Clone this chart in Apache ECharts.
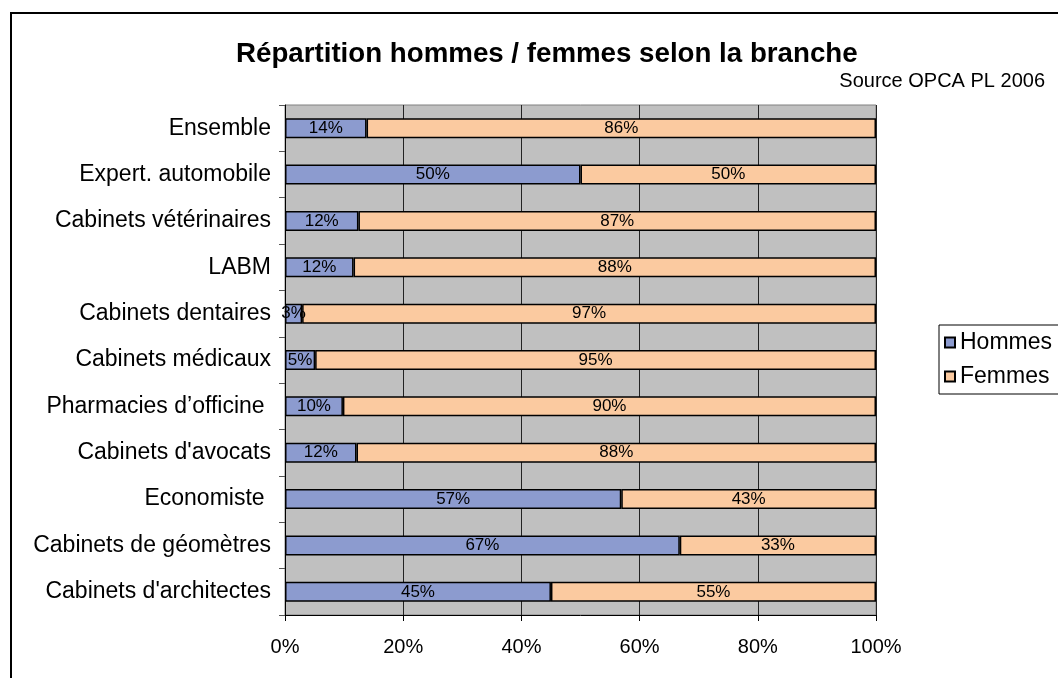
<!DOCTYPE html>
<html>
<head>
<meta charset="utf-8">
<script src="https://cdn.jsdelivr.net/npm/echarts@6/dist/echarts.min.js"></script>
<style>
  html, body { margin: 0; padding: 0; background: #fff; }
  #chart { width: 1058px; height: 678px; }
</style>
</head>
<body>
<div id="chart"></div>
<script>
// branches, top to bottom
const categories = ['Ensemble', 'Expert. automobile', 'Cabinets vétérinaires', 'LABM', 'Cabinets dentaires',
  'Cabinets médicaux', 'Pharmacies d’officine ', "Cabinets d'avocats", 'Economiste ',
  'Cabinets de géomètres', "Cabinets d'architectes"];
const hommes = [13.8, 50, 12.4, 11.6, 2.9, 5.1, 9.8, 12.1, 56.9, 66.8, 45];
const femmes = [86.2, 50, 87.4, 88.4, 97.1, 94.9, 90.2, 87.9, 43.1, 33.2, 55];
const xTicks = [0, 20, 40, 60, 80, 100];

const font = 'Arial, "Liberation Sans", sans-serif';

// 100% stacked: share of each row
function share(arr) {
  return arr.map((v, i) => ({ value: v / (hommes[i] + femmes[i]) * 100, raw: v }));
}

const labelOpt = {
  show: true,
  position: 'inside',
  color: '#000',
  fontFamily: font,
  fontSize: 17,
  formatter: p => Math.round(p.data.raw) + '%'
};

var myChart = echarts.init(document.getElementById('chart'));
myChart.setOption({
  animation: false,
  title: [
    {
      text: 'Répartition hommes / femmes selon la branche',
      left: 231,
      top: 35,
      textStyle: { fontFamily: font, fontSize: 27.7, fontWeight: 'bold', color: '#000' }
    },
    {
      text: 'Source OPCA PL 2006',
      right: 8,
      top: 66,
      textStyle: { fontFamily: font, fontSize: 20, fontWeight: 'normal', color: '#000' }
    }
  ],
  graphic: [
    {
      type: 'rect',
      z: -10,
      silent: true,
      shape: { x: 11, y: 13, width: 1200, height: 800 },
      style: { fill: 'none', stroke: '#000', lineWidth: 2 }
    }
  ],
  legend: {
    orient: 'vertical',
    left: 939,
    top: 325,
    itemWidth: 10,
    itemHeight: 10,
    itemGap: 11,
    padding: [6, 60, 6, 5],
    borderColor: '#000',
    borderWidth: 1,
    icon: 'rect',
    textStyle: { fontFamily: font, fontSize: 23, lineHeight: 23, color: '#000' },
    data: ['Hommes', 'Femmes']
  },
  grid: {
    left: 285,
    right: 182,
    top: 105,
    bottom: 63,
    show: true,
    backgroundColor: '#C0C0C0',
    borderColor: '#808080',
    borderWidth: 1
  },
  xAxis: {
    type: 'value',
    min: xTicks[0],
    max: xTicks[xTicks.length - 1],
    interval: 20,
    axisLine: { show: true, lineStyle: { color: '#000', width: 1 } },
    axisTick: { show: true, length: 6, lineStyle: { color: '#000' } },
    splitLine: { show: true, lineStyle: { color: '#222', width: 1 } },
    axisLabel: {
      margin: 22,
      fontFamily: font,
      fontSize: 20,
      color: '#000',
      formatter: '{value}%'
    }
  },
  yAxis: {
    type: 'category',
    inverse: true,
    data: categories,
    axisLine: { show: true, lineStyle: { color: '#000', width: 1 } },
    axisTick: { show: true, length: 6, alignWithLabel: false, lineStyle: { color: '#555' } },
    axisLabel: { margin: 14, fontFamily: font, fontSize: 23, color: '#000' }
  },
  series: [
    {
      name: 'Hommes',
      type: 'bar',
      stack: 'total',
      barWidth: 20,
      itemStyle: { color: '#8C9BCF', borderColor: '#000', borderWidth: 1.5 },
      label: labelOpt,
      data: share(hommes)
    },
    {
      name: 'Femmes',
      type: 'bar',
      stack: 'total',
      barWidth: 20,
      itemStyle: { color: '#FBCAA0', borderColor: '#000', borderWidth: 1.5 },
      label: labelOpt,
      data: share(femmes)
    }
  ]
});
</script>
</body>
</html>
